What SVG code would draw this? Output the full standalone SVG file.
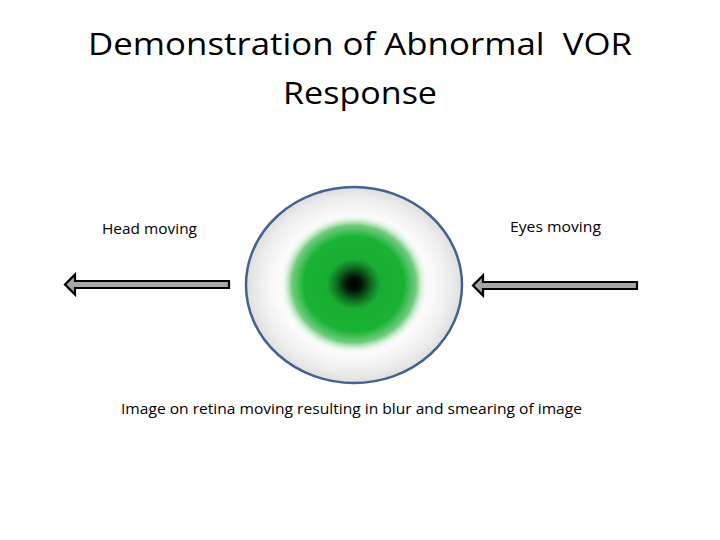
<svg xmlns="http://www.w3.org/2000/svg" width="720" height="540" viewBox="0 0 720 540">
<style>
.t{font-family:"Open Sans","Liberation Sans",Arial,sans-serif;fill:#000}
.title{font-size:31px}
.lbl{font-size:15px}
.arrow{fill:#a6a6a6;stroke:#000;stroke-width:2.2;stroke-linejoin:miter}
</style>
<defs>
<radialGradient id="sclera" cx="0.5" cy="0.5" r="0.5">
<stop offset="0" stop-color="#ffffff"/>
<stop offset="0.72" stop-color="#fbfbfb"/>
<stop offset="0.9" stop-color="#ececec"/>
<stop offset="1" stop-color="#dedede"/>
</radialGradient>
<radialGradient id="iris" cx="0.5" cy="0.5" r="0.5">
<stop offset="0" stop-color="#000000"/>
<stop offset="0.1" stop-color="#031306"/>
<stop offset="0.24" stop-color="#0f6e20"/>
<stop offset="0.36" stop-color="#18ad32"/>
<stop offset="0.68" stop-color="#19b334"/>
<stop offset="0.84" stop-color="#45bc55" stop-opacity="0.75"/>
<stop offset="1" stop-color="#ffffff" stop-opacity="0"/>
</radialGradient>
</defs>
<g id="title">
<text class="t title" x="360" y="55" text-anchor="middle" textLength="544" lengthAdjust="spacingAndGlyphs" xml:space="preserve">Demonstration of Abnormal  VOR</text>
<text class="t title" x="360" y="104" text-anchor="middle" textLength="154" lengthAdjust="spacingAndGlyphs">Response</text>
</g>
<g id="eye">
<ellipse cx="354" cy="285" rx="108" ry="98" fill="url(#sclera)" stroke="#44628e" stroke-width="2.5"/>
<ellipse cx="354" cy="284" rx="74" ry="70" fill="url(#iris)"/>
</g>
<g id="head-label">
<text class="t lbl" x="102" y="234" textLength="95" lengthAdjust="spacingAndGlyphs">Head moving</text>
</g>
<g id="eyes-label">
<text class="t lbl" x="510" y="232" textLength="91" lengthAdjust="spacingAndGlyphs">Eyes moving</text>
</g>
<g id="caption">
<text class="t lbl" x="121" y="414" textLength="461" lengthAdjust="spacingAndGlyphs">Image on retina moving resulting in blur and smearing of image</text>
</g>
<g id="connectors">
<polygon class="arrow" points="65,284.5 75,274.5 75,281 229,281 229,288 75,288 75,294.5"/>
<polygon class="arrow" points="473,285.5 483,275.5 483,282 637,282 637,289 483,289 483,295.5"/>
</g>
</svg>
